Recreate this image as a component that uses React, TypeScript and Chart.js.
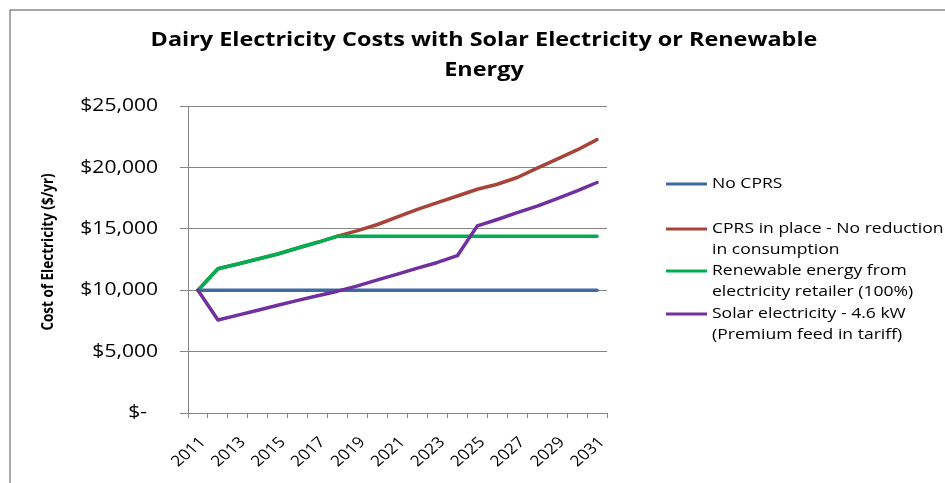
import { useEffect, useRef } from "react";
import { Chart, registerables } from "chart.js";

Chart.register(...registerables);

// Years on the category axis
const years = [
  "2011", "2012", "2013", "2014", "2015", "2016", "2017", "2018", "2019", "2020",
  "2021", "2022", "2023", "2024", "2025", "2026", "2027", "2028", "2029", "2030", "2031",
];

// Annual electricity cost ($/yr) for each scenario
const noCprs = [
  10000, 10000, 10000, 10000, 10000, 10000, 10000, 10000, 10000, 10000,
  10000, 10000, 10000, 10000, 10000, 10000, 10000, 10000, 10000, 10000, 10000,
];
const cprsInPlace = [
  10000, 11750, 12130, 12540, 12950, 13440, 13900, 14400, 14850, 15350,
  15980, 16580, 17130, 17670, 18220, 18630, 19180, 19940, 20680, 21420, 22260,
];
const renewable = [
  10000, 11750, 12130, 12540, 12950, 13440, 13900, 14400, 14400, 14400,
  14400, 14400, 14400, 14400, 14400, 14400, 14400, 14400, 14400, 14400, 14400,
];
const solar = [
  10000, 7570, 7970, 8370, 8770, 9170, 9550, 9920, 10350, 10840,
  11310, 11800, 12260, 12810, 15240, 15760, 16310, 16850, 17460, 18080, 18770,
];

const seriesColors = ["#3e6ba0", "#a8433a", "#00b050", "#7030a0"];
const legendLabels = [
  ["No CPRS"],
  ["CPRS in place - No reduction", "in consumption"],
  ["Renewable energy from", "electricity retailer (100%)"],
  ["Solar electricity - 4.6 kW", "(Premium feed in tariff)"],
];
const titleLines = ["Dairy Electricity Costs with Solar Electricity or Renewable", "Energy"];
const yAxisTitle = "Cost of Electricity ($/yr)";

const FONT = "'Open Sans', 'Noto Sans', sans-serif";
const AXIS_GRAY = "#868686";
// text is drawn slightly widened, as in the original workbook export
const WIDEN = 1.17;

function wideText(ctx: CanvasRenderingContext2D, text: string, x: number, y: number, rotate = 0) {
  ctx.save();
  ctx.translate(x, y);
  ctx.scale(WIDEN, 1);
  if (rotate) ctx.rotate(rotate);
  ctx.fillText(text, 0, 0);
  ctx.restore();
}

// Frame, title, axis labels and the legend drawn onto the canvas
const decorations = {
  id: "decorations",
  beforeDraw(chart: any) {
    const ctx = chart.ctx;
    ctx.save();
    ctx.strokeStyle = "#8c8c8c";
    ctx.lineWidth = 1.5;
    ctx.strokeRect(10, 10, 2000, 2000);
    ctx.restore();
  },
  afterDraw(chart: any) {
    const ctx: CanvasRenderingContext2D = chart.ctx;
    const xScale = chart.scales.x;
    const yScale = chart.scales.y;
    ctx.save();
    ctx.fillStyle = "#000";

    // chart title
    ctx.font = `bold 20px ${FONT}`;
    ctx.textAlign = "center";
    ctx.textBaseline = "alphabetic";
    titleLines.forEach((line, i) => wideText(ctx, line, 484, 46 + i * 30));

    // y axis tick labels
    ctx.font = `18px ${FONT}`;
    ctx.textAlign = "right";
    ctx.textBaseline = "middle";
    yScale.ticks.forEach((t: any) => {
      wideText(ctx, String(t.label), yScale.right - 30, yScale.getPixelForValue(t.value));
    });

    // x axis tick labels, every second year, at 45 degrees
    ctx.font = `15px ${FONT}`;
    ctx.textAlign = "right";
    ctx.textBaseline = "middle";
    xScale.ticks.forEach((t: any, i: number) => {
      const label = String(t.label ?? "");
      if (!label) return;
      wideText(ctx, label, xScale.getPixelForTick(i) + 5, xScale.top + 27, -Math.PI / 4);
    });

    // y axis title
    ctx.font = `bold 13.5px ${FONT}`;
    ctx.textAlign = "center";
    ctx.textBaseline = "middle";
    wideText(ctx, yAxisTitle, 49, 252, -Math.PI / 2);

    // legend
    const rowTops = [184, 229, 271, 314];
    const lineHeight = 21;
    ctx.font = `15px ${FONT}`;
    ctx.textAlign = "left";
    ctx.textBaseline = "middle";
    legendLabels.forEach((lines, i) => {
      const y = rowTops[i];
      ctx.strokeStyle = seriesColors[i];
      ctx.lineWidth = 3;
      ctx.beginPath();
      ctx.moveTo(666, y);
      ctx.lineTo(707, y);
      ctx.stroke();
      lines.forEach((t, j) => wideText(ctx, t, 712, y + j * lineHeight));
    });
    ctx.restore();
  },
};

export default function App() {
  const canvasRef = useRef<HTMLCanvasElement | null>(null);

  useEffect(() => {
    const canvas = canvasRef.current;
    if (!canvas) return;
    const names = legendLabels.map((l) => l.join(" "));
    const values = [noCprs, cprsInPlace, renewable, solar];
    const chart = new Chart(canvas, {
      type: "line",
      data: {
        labels: years,
        datasets: values.map((data, i) => ({
          label: names[i],
          data,
          borderColor: seriesColors[i],
          backgroundColor: seriesColors[i],
          borderWidth: 3.5,
          pointRadius: 0,
          tension: 0,
          borderJoinStyle: "round" as const,
          borderCapStyle: "round" as const,
          order: 4 - i,
        })),
      },
      options: {
        responsive: false,
        animation: false,
        devicePixelRatio: 1,
        layout: { padding: { left: 0, top: 106, right: 338, bottom: 0 } },
        plugins: {
          legend: { display: false },
          title: { display: false },
          tooltip: { enabled: false },
        },
        scales: {
          x: {
            type: "category",
            offset: true,
            border: { display: true, color: AXIS_GRAY, width: 1 },
            grid: {
              display: true,
              offset: true,
              drawOnChartArea: false,
              drawTicks: true,
              tickLength: 5,
              color: AXIS_GRAY,
            },
            ticks: {
              display: false,
              autoSkip: false,
              callback: (_v: any, i: number) => (i % 2 === 0 ? years[i] : ""),
            },
            afterFit: (s: any) => {
              s.height = 70;
            },
          },
          y: {
            min: 0,
            max: 25000,
            border: { display: true, color: AXIS_GRAY, width: 1 },
            grid: { color: AXIS_GRAY, tickLength: 8, drawTicks: true },
            ticks: {
              display: false,
              stepSize: 5000,
              callback: (v: any) =>
                Number(v) === 0 ? "$-  " : "$" + Number(v).toLocaleString("en-US"),
            },
            afterFit: (s: any) => {
              s.width = 188;
            },
          },
        },
      },
      plugins: [decorations],
    });
    return () => chart.destroy();
  }, []);

  return (
    <div style={{ position: "fixed", left: 0, top: 0, width: 945, height: 483, background: "#fff", overflow: "hidden" }}>
      <canvas ref={canvasRef} width={945} height={483} />
    </div>
  );
}
